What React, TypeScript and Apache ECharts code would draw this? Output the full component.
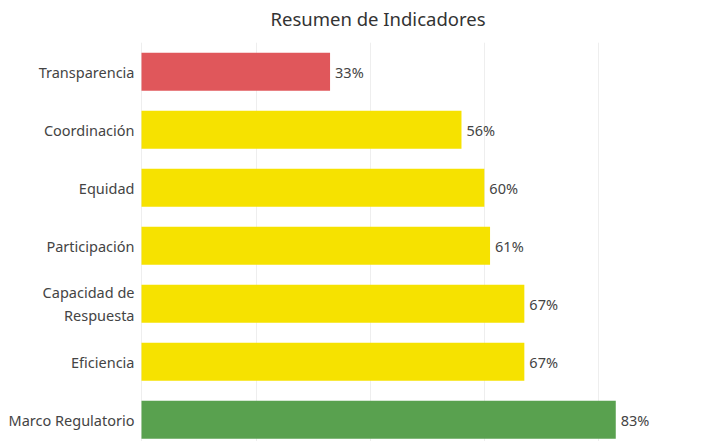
import React, { useEffect, useRef } from "react";
import * as echarts from "echarts";

const categories = [
  "Transparencia",
  "Coordinación",
  "Equidad",
  "Participación",
  "Capacidad de\nRespuesta",
  "Eficiencia",
  "Marco Regulatorio",
];
const values = [33, 56, 60, 61, 67, 67, 83];
const colors = ["#e0575b", "#f6e200", "#f6e200", "#f6e200", "#f6e200", "#f6e200", "#59a14f"];

export default function App() {
  const ref = useRef<HTMLDivElement>(null);
  useEffect(() => {
    const chart = echarts.init(ref.current!, null, { renderer: "svg" });
    const font = "Noto Sans";
    chart.setOption({
      animation: false,
      title: {
        text: "Resumen de Indicadores",
        left: 373,
        top: 4,
        textAlign: "center",
        textStyle: { fontFamily: font, fontSize: 18.5, fontWeight: "normal", color: "#333" },
      },
      grid: {
        left: 141.5,
        top: 42.7,
        width: 571.4,
        height: 406,
        containLabel: false,
        outerBoundsMode: "none",
      },
      xAxis: {
        type: "value",
        min: 0,
        max: 100,
        interval: 20,
        axisLabel: { show: false },
        axisLine: { show: false },
        axisTick: { show: false },
        splitLine: { show: true, lineStyle: { color: "#eeeeee", width: 1 } },
      },
      yAxis: {
        type: "category",
        inverse: true,
        data: categories,
        axisLine: { show: false },
        axisTick: { show: false },
        axisLabel: {
          fontFamily: font,
          fontSize: 14.5,
          color: "#444",
          margin: 7,
          align: "right",
          lineHeight: 23,
        },
      },
      series: [
        {
          type: "bar",
          barWidth: 38,
          data: values.map((v, i) => ({ value: v, itemStyle: { color: colors[i] } })),
          label: {
            show: true,
            position: "right",
            distance: 5,
            formatter: "{c}%",
            fontFamily: font,
            fontSize: 14.5,
            color: "#444",
          },
        },
      ],
    });
    return () => chart.dispose();
  }, []);
  return <div ref={ref} style={{ width: 702, height: 441, position: "fixed", left: 0, top: 0, background: "#fff" }} />;
}
